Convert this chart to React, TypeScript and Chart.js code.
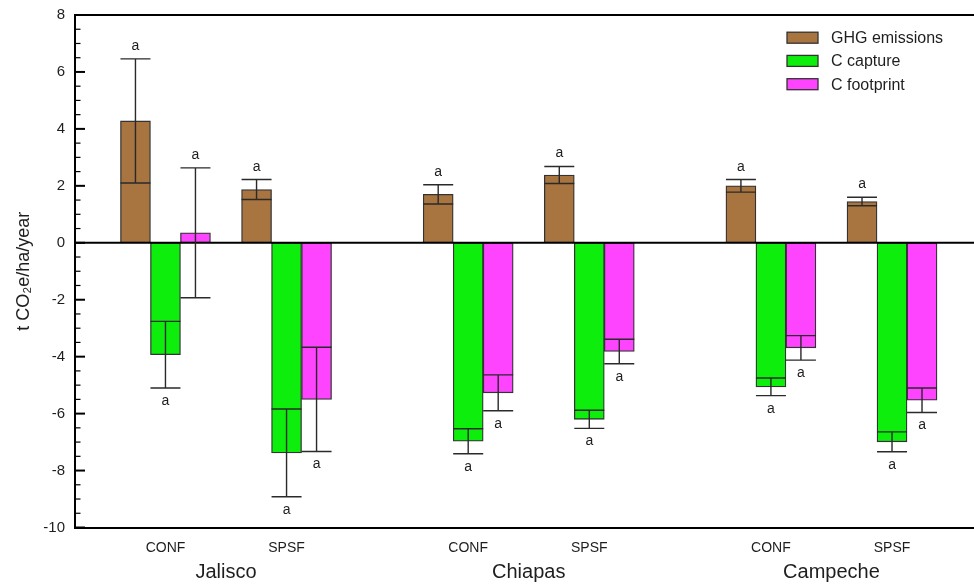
import React, { useEffect, useRef } from "react";
import { Chart, registerables } from "chart.js";

Chart.register(...registerables);

// ---- data ----
const groupLabels = ["CONF", "SPSF", "CONF", "SPSF", "CONF", "SPSF"];
const stateLabels = ["Jalisco", "Chiapas", "Campeche"];
const groupSlots = [0, 1, 2.5, 3.5, 5, 6];
const stateSlots = [0.5, 3, 5.5];

const ghgEmissions = [4.28, 1.87, 1.7, 2.38, 2.0, 1.45];
const ghgErrors = [2.18, 0.35, 0.34, 0.3, 0.22, 0.15];
const cCapture = [-3.93, -7.38, -6.97, -6.2, -5.06, -6.99];
const cCaptureErrors = [1.17, 1.54, 0.44, 0.32, 0.31, 0.35];
const cFootprint = [0.35, -5.5, -5.27, -3.82, -3.69, -5.53];
const cFootprintErrors = [2.28, 1.83, 0.63, 0.43, 0.43, 0.43];
const ghgLetters = ["a", "a", "a", "a", "a", "a"];
const captureLetters = ["a", "a", "a", "a", "a", "a"];
const footprintLetters = ["a", "a", "a", "a", "a", "a"];

const seriesNames = ["GHG emissions", "C capture", "C footprint"];
const yMin = -10;
const yMax = 8;
const yStep = 2;
const yTitle = "t CO\u2082e/ha/year";

const COLORS = ["#A8743F", "#0DEE0D", "#FF44FF"];
const FONT = '"Liberation Sans", Arial, Helvetica, sans-serif';
const INK = "#1e1e1e";
const X_MIN = -0.747;
const X_MAX = 6.677;

const decorPlugin = {
  id: "decor",
  afterDatasetsDraw(chart: any) {
    const { ctx, chartArea, scales } = chart;
    const y = scales.y;
    ctx.save();
    // zero line
    const y0 = y.getPixelForValue(0);
    ctx.strokeStyle = "#000";
    ctx.lineWidth = 2;
    ctx.beginPath();
    ctx.moveTo(chartArea.left, y0);
    ctx.lineTo(chartArea.right, y0);
    ctx.stroke();
    // top border
    ctx.beginPath();
    ctx.moveTo(chartArea.left - 1, chartArea.top);
    ctx.lineTo(chartArea.right, chartArea.top);
    ctx.stroke();
    // inward ticks on y axis
    for (let v = yMin; v <= yMax + 1e-9; v += 0.5) {
      const py = y.getPixelForValue(v);
      const major = Math.abs(v / yStep - Math.round(v / yStep)) < 1e-6;
      ctx.lineWidth = major ? 2 : 1.2;
      ctx.beginPath();
      ctx.moveTo(chartArea.left, py);
      ctx.lineTo(chartArea.left + (major ? 10 : 5.5), py);
      ctx.stroke();
    }
    // error bars and letters
    chart.data.datasets.forEach((ds: any, di: number) => {
      const meta = chart.getDatasetMeta(di);
      meta.data.forEach((bar: any, i: number) => {
        const v = ds.data[i].y;
        const e = ds.errors[i];
        const hw = bar.width / 2;
        const yHi = y.getPixelForValue(v + e);
        const yLo = y.getPixelForValue(v - e);
        ctx.strokeStyle = "#2a2a2a";
        ctx.lineWidth = 1.4;
        ctx.beginPath();
        ctx.moveTo(bar.x, yHi);
        ctx.lineTo(bar.x, yLo);
        ctx.moveTo(bar.x - hw, yHi);
        ctx.lineTo(bar.x + hw, yHi);
        ctx.moveTo(bar.x - hw, yLo);
        ctx.lineTo(bar.x + hw, yLo);
        ctx.stroke();
        ctx.fillStyle = INK;
        ctx.font = `14px ${FONT}`;
        ctx.textAlign = "center";
        ctx.textBaseline = "alphabetic";
        if (v >= 0) ctx.fillText(ds.letters[i], bar.x, yHi - 9);
        else ctx.fillText(ds.letters[i], bar.x, yLo + 17);
      });
    });
    // legend
    const bx = 787;
    const rows = [37.7, 60.9, 84.2];
    chart.data.datasets.forEach((ds: any, di: number) => {
      const cy = rows[di];
      ctx.fillStyle = ds.backgroundColor;
      ctx.fillRect(bx, cy - 5.5, 31, 11);
      ctx.strokeStyle = "#333";
      ctx.lineWidth = 1.3;
      ctx.strokeRect(bx, cy - 5.5, 31, 11);
      ctx.fillStyle = INK;
      ctx.font = `16px ${FONT}`;
      ctx.textAlign = "left";
      ctx.textBaseline = "middle";
      ctx.fillText(ds.label, 831, cy + 1);
    });
    ctx.restore();
  },
};

export default function App() {
  const ref = useRef<HTMLCanvasElement | null>(null);
  useEffect(() => {
    document.body.style.margin = "0";
    const toPts = (vals: number[]) => vals.map((v, i) => ({ x: groupSlots[i], y: v }));
    const mk = (label: string, vals: number[], errs: number[], letters: string[], color: string) => ({
      label,
      data: toPts(vals),
      errors: errs,
      letters,
      backgroundColor: color,
      borderColor: "#333",
      borderWidth: 1.3,
      borderSkipped: false,
      barThickness: 30,
    });
    const chart = new Chart(ref.current as HTMLCanvasElement, {
      type: "bar",
      data: {
        datasets: [
          mk(seriesNames[0], ghgEmissions, ghgErrors, ghgLetters, COLORS[0]),
          mk(seriesNames[1], cCapture, cCaptureErrors, captureLetters, COLORS[1]),
          mk(seriesNames[2], cFootprint, cFootprintErrors, footprintLetters, COLORS[2]),
        ] as any,
      },
      options: {
        animation: false,
        responsive: false,
        layout: { padding: { top: 15, right: 0, bottom: 0, left: 0 } },
        plugins: { legend: { display: false }, tooltip: { enabled: false } },
        scales: {
          x: {
            type: "linear",
            position: "bottom",
            weight: 0,
            offset: false,
            min: X_MIN,
            max: X_MAX,
            grid: { display: false, drawTicks: false, offset: false },
            border: { display: true, color: "#000", width: 2 },
            afterBuildTicks: (s: any) => {
              s.ticks = groupSlots.map((v) => ({ value: v }));
            },
            afterFit: (s: any) => {
              s.height = 28;
              s.paddingLeft = 0;
              s.paddingRight = 0;
            },
            ticks: {
              autoSkip: false,
              maxRotation: 0,
              padding: 12,
              color: INK,
              font: { family: FONT, size: 14 },
              callback: (_v: any, i: number) => groupLabels[i],
            },
          },
          xs: {
            type: "linear",
            axis: "x",
            position: "bottom",
            weight: 1,
            offset: false,
            min: X_MIN,
            max: X_MAX,
            grid: { display: false, drawTicks: false, offset: false },
            border: { display: false },
            afterBuildTicks: (s: any) => {
              s.ticks = stateSlots.map((v) => ({ value: v }));
            },
            afterFit: (s: any) => {
              s.height = 29.5;
              s.paddingLeft = 0;
              s.paddingRight = 0;
            },
            ticks: {
              autoSkip: false,
              maxRotation: 0,
              padding: 5,
              color: INK,
              font: { family: FONT, size: 20 },
              callback: (_v: any, i: number) => stateLabels[i],
            },
          },
          y: {
            min: yMin,
            max: yMax,
            grid: { display: false, drawTicks: false },
            border: { display: true, color: "#000", width: 2 },
            afterFit: (s: any) => {
              s.width = 75;
              s.paddingTop = 0;
              s.paddingBottom = 0;
            },
            ticks: {
              stepSize: yStep,
              padding: 10,
              color: INK,
              font: { family: FONT, size: 15 },
            },
            title: {
              display: true,
              text: yTitle,
              color: INK,
              font: { family: FONT, size: 18 },
              padding: { top: 13, bottom: 0 },
            },
          },
        },
      } as any,
      plugins: [decorPlugin],
    });
    return () => chart.destroy();
  }, []);
  return <canvas ref={ref} width={974} height={585} style={{ display: "block" }} />;
}
